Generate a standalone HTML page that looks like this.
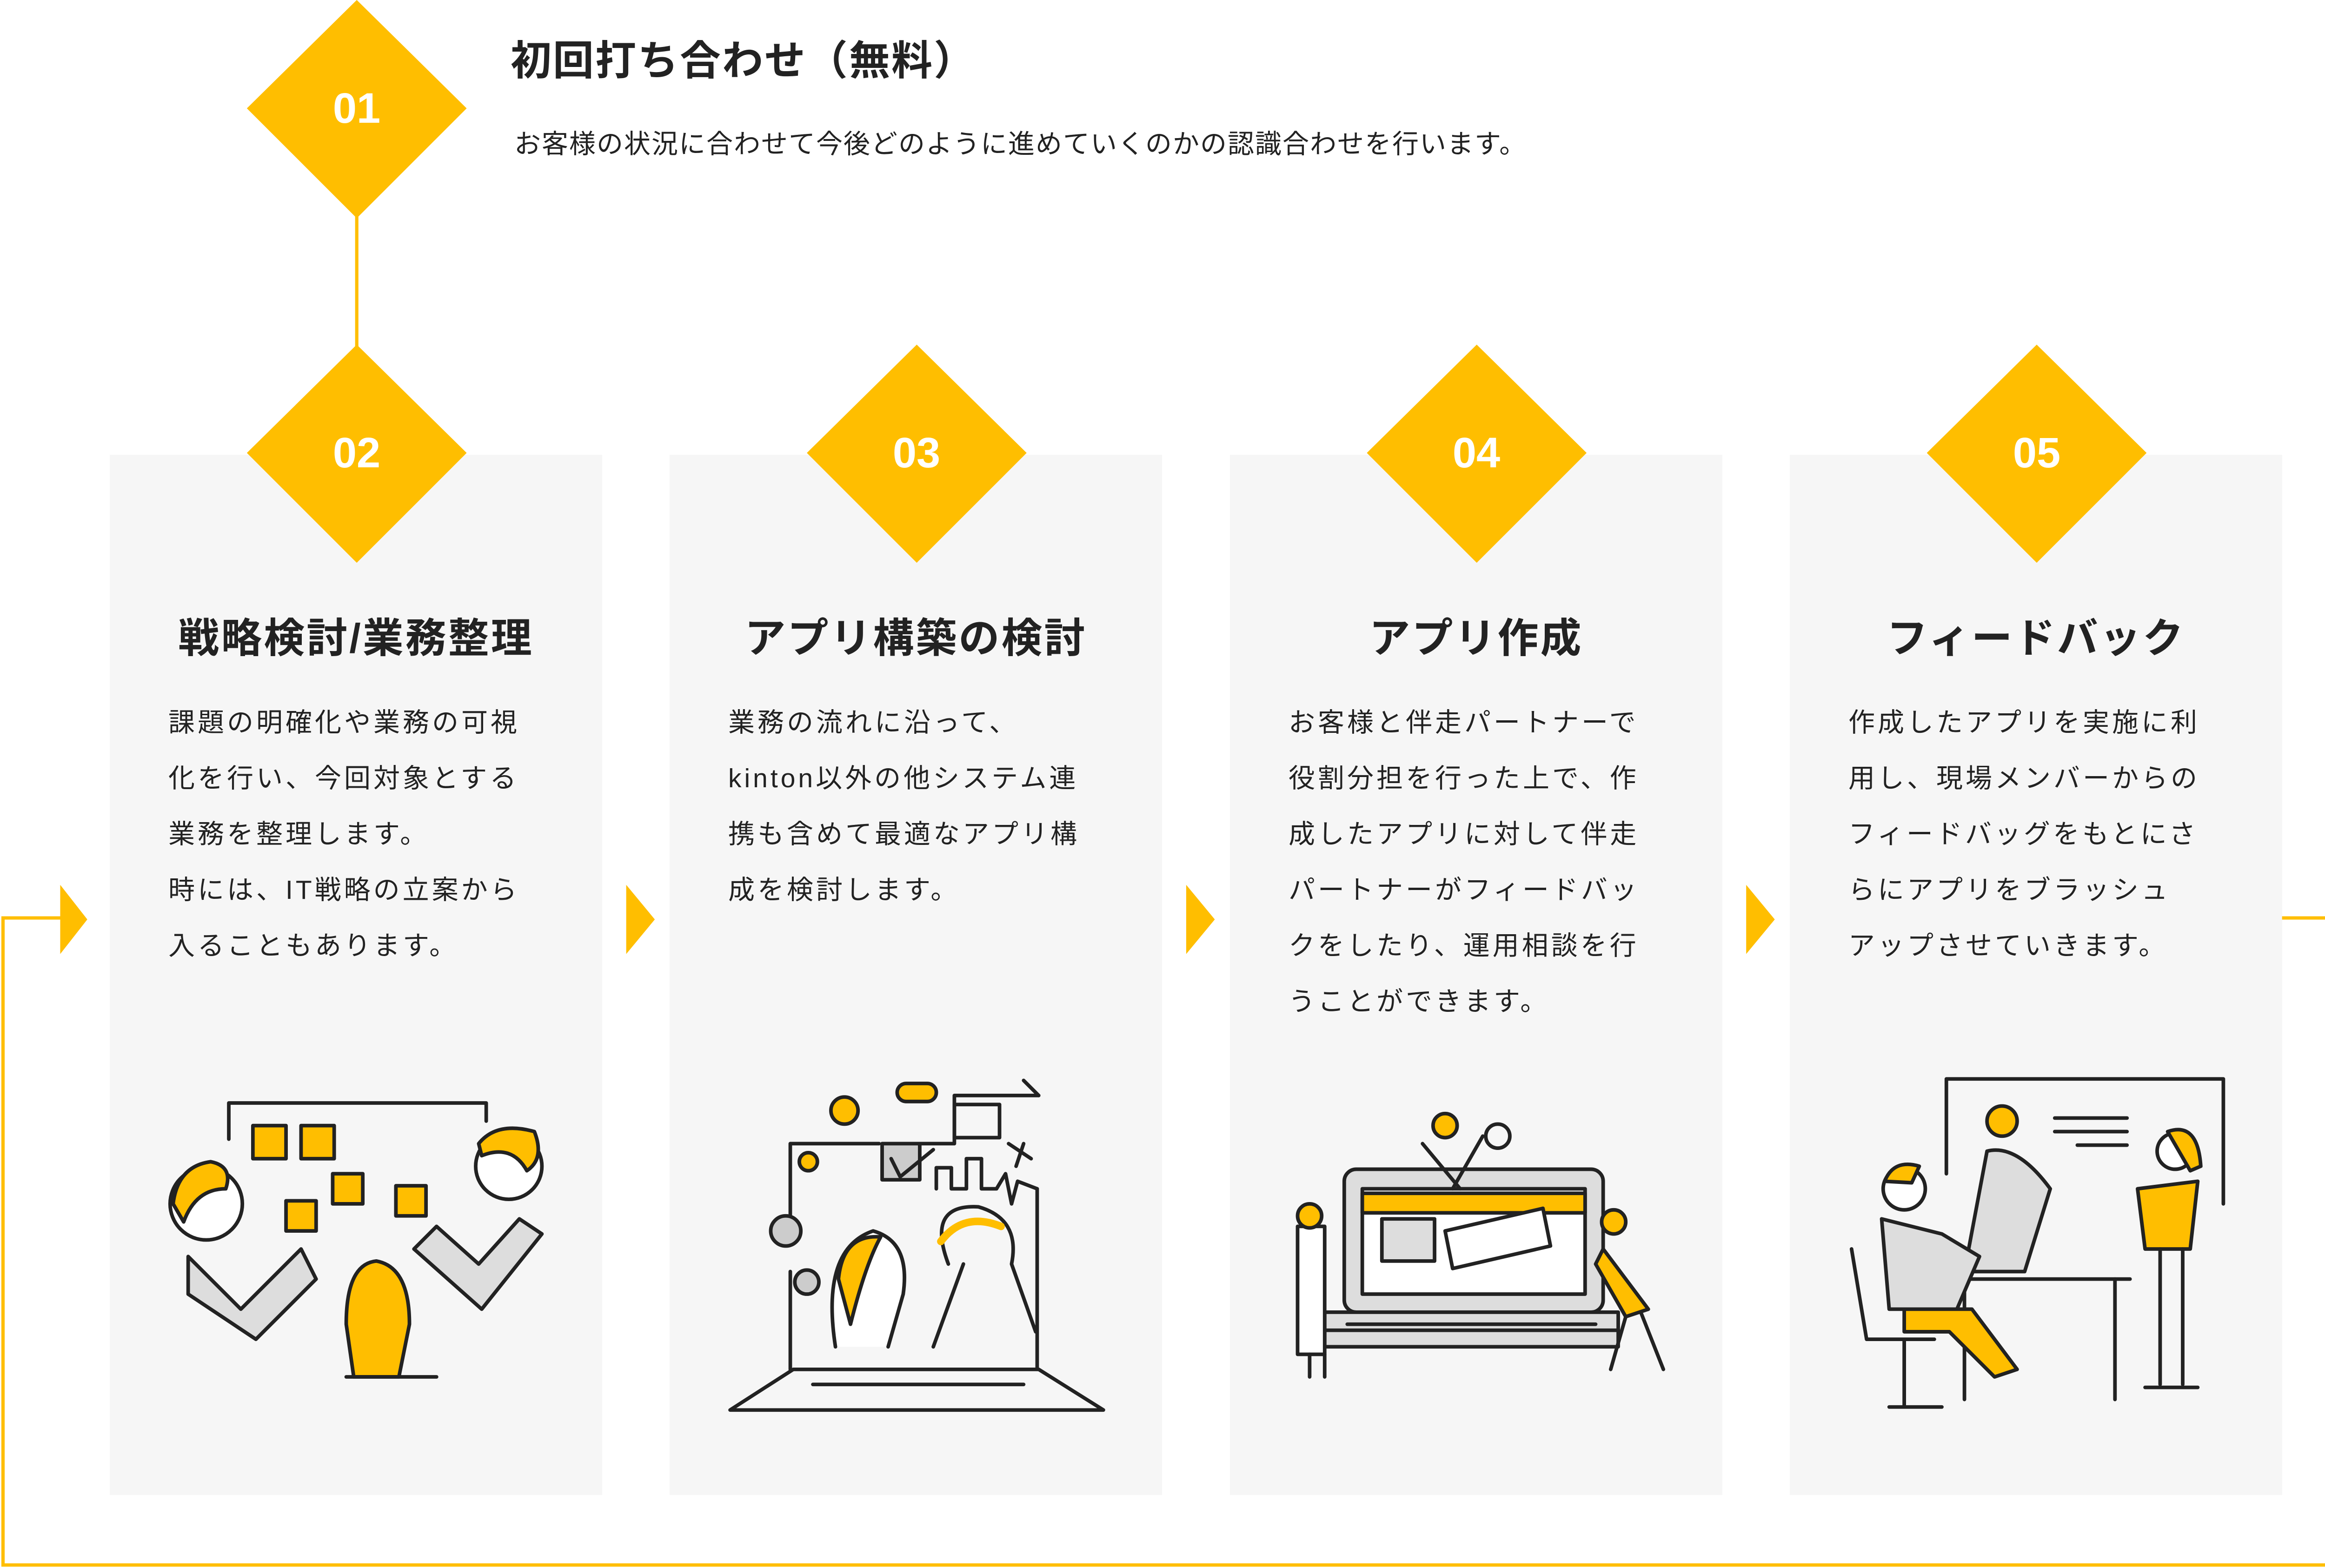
<!DOCTYPE html>
<html><head><meta charset="utf-8">
<style>
html,body{margin:0;padding:0;background:#fff;}
body{width:5076px;height:3372px;position:relative;overflow:hidden;font-family:"Liberation Sans","Noto Sans CJK JP",sans-serif;color:#222;}
.card{position:absolute;top:978px;width:1059px;height:2237px;background:#f6f6f6;}
.t{position:absolute;white-space:nowrap;}
.title{font-weight:bold;font-size:88px;top:335px;left:0;width:1059px;text-align:center;letter-spacing:4px;line-height:120px;}
.body{font-size:57px;line-height:120px;letter-spacing:6px;top:516px;left:126px;white-space:nowrap;}
.num{position:absolute;width:480px;height:120px;margin-left:-240px;margin-top:-60px;text-align:center;line-height:120px;color:#fff;font-weight:bold;font-size:92px;}
svg{position:absolute;left:0;top:0;}
</style></head><body>
<div class="card" style="left:236px"><div class="t title">戦略検討/業務整理</div><div class="t body">課題の明確化や業務の可視<br>化を行い、今回対象とする<br>業務を整理します。<br>時には、IT戦略の立案から<br>入ることもあります。</div></div>
<div class="card" style="left:1440px"><div class="t title">アプリ構築の検討</div><div class="t body">業務の流れに沿って、<br>kinton以外の他システム連<br>携も含めて最適なアプリ構<br>成を検討します。</div></div>
<div class="card" style="left:2645px"><div class="t title">アプリ作成</div><div class="t body">お客様と伴走パートナーで<br>役割分担を行った上で、作<br>成したアプリに対して伴走<br>パートナーがフィードバッ<br>クをしたり、運用相談を行<br>うことができます。</div></div>
<div class="card" style="left:3849px"><div class="t title">フィードバック</div><div class="t body">作成したアプリを実施に利<br>用し、現場メンバーからの<br>フィードバッグをもとにさ<br>らにアプリをブラッシュ<br>アップさせていきます。</div></div>

<svg width="5076" height="3372" viewBox="0 0 1568 1042" preserveAspectRatio="none">
<g fill="none" stroke="#FFBE00" stroke-width="2.2">
<line x1="237" y1="140" x2="237" y2="235"/>
<polyline points="40,610 2,610 2,1040 1566,1040 1566,610 1516,610"/>
</g>
<g fill="#FFBE00">
<polygon points="237,0 310,72 237,145 164,72"/>
<polygon points="237,229 310,301 237,374 164,301"/>
<polygon points="609,229 682,301 609,374 536,301"/>
<polygon points="981,229 1054,301 981,374 908,301"/>
<polygon points="1353,229 1426,301 1353,374 1280,301"/>
<polygon points="40,588 58,611 40,634"/>
<polygon points="416,588 435,611 416,634"/>
<polygon points="788,588 807,611 788,634"/>
<polygon points="1160,588 1179,611 1160,634"/>
</g>
<!-- card 02 illustration -->
<g stroke="#222" stroke-width="2.4" stroke-linecap="round" stroke-linejoin="round">
<polyline fill="none" points="152,757 152,733 323,733 323,745"/>
<rect x="168" y="748" width="22" height="22" fill="#FFBE00"/>
<rect x="200" y="748" width="22" height="22" fill="#FFBE00"/>
<rect x="190" y="798" width="20" height="20" fill="#FFBE00"/>
<rect x="221" y="780" width="20" height="20" fill="#FFBE00"/>
<rect x="263" y="788" width="20" height="20" fill="#FFBE00"/>
<path d="M125,835 L160,870 L200,830 L210,850 L170,890 L125,860 Z" fill="#ddd"/>
<circle cx="137" cy="800" r="24" fill="#fff"/>
<path d="M115,800 Q118,775 140,772 Q155,775 150,790 Q130,790 122,812 Z" fill="#FFBE00"/>
<path d="M275,830 L320,870 L360,820 L345,810 L318,840 L290,815 Z" fill="#ddd"/>
<circle cx="338" cy="775" r="22" fill="#fff"/>
<path d="M318,760 Q330,745 355,752 Q362,770 350,778 Q340,760 320,768 Z" fill="#FFBE00"/>
<path d="M230,880 Q230,840 250,838 Q272,842 272,880 L265,915 L235,915 Z" fill="#FFBE00"/>
<path d="M230,915 L290,915" fill="none"/>
</g>
<!-- card 03 illustration -->
<g stroke="#222" stroke-width="2.4" stroke-linecap="round" stroke-linejoin="round" fill="none">
<polygon points="485,937 733,937 690,910 527,910"/>
<line x1="540" y1="920" x2="680" y2="920"/>
<polyline points="525,818 525,760 584,760"/>
<line x1="525" y1="845" x2="525" y2="910"/>
<polyline points="600,760 634,760 634,728 690,728"/>
<polyline points="680,718 690,728"/>
<line x1="689" y1="790" x2="689" y2="910"/>
<rect x="586" y="760" width="25" height="24" fill="#ccc"/>
<path d="M592,770 L598,782 L620,764"/>
<circle cx="561" cy="738" r="9" fill="#FFBE00"/>
<circle cx="537" cy="772" r="6" fill="#FFBE00"/>
<rect x="634" y="734" width="30" height="22"/>
<polyline points="622,790 622,776 632,776 632,790 642,790 642,770 652,770 652,790 662,790 668,780 672,800 676,785 689,790"/>
<path d="M670,760 L685,770 M675,775 L680,760"/>
<rect x="596" y="720" width="26" height="12" rx="6" fill="#FFBE00"/>
<circle cx="522" cy="818" r="10" fill="#ccc"/>
<circle cx="536" cy="852" r="8" fill="#ccc"/>
<path d="M555,895 Q545,830 580,818 Q605,825 600,860 L590,895" fill="#fff"/>
<path d="M557,850 Q560,820 585,822 Q575,840 565,880 Z" fill="#FFBE00"/>
<path d="M620,895 L640,840 M630,840 Q615,800 650,802 Q678,810 672,840 L688,885"/>
<path d="M625,825 Q640,805 665,815" stroke="#FFBE00" stroke-width="5"/>
</g>
<!-- card 04 illustration -->
<g stroke="#222" stroke-width="2.4" stroke-linecap="round" stroke-linejoin="round">
<rect x="893" y="777" width="172" height="95" rx="8" fill="#ddd"/>
<rect x="905" y="790" width="148" height="70" fill="#fff"/>
<rect x="905" y="793" width="148" height="13" fill="#FFBE00"/>
<rect x="918" y="810" width="35" height="28" fill="#ddd"/>
<polygon points="960,818 1025,803 1030,828 965,843" fill="#fff"/>
<polygon points="880,872 1075,872 1075,895 880,895" fill="#ddd"/>
<line x1="895" y1="880" x2="1060" y2="880" fill="none"/>
<line x1="880" y1="884" x2="1075" y2="884" fill="none"/>
<path d="M945,760 L970,790 M985,755 L965,790" fill="none"/>
<circle cx="960" cy="748" r="8" fill="#FFBE00"/>
<circle cx="995" cy="755" r="8" fill="none"/>
<path d="M862,815 L862,900 L880,900 L880,815 Z" fill="#fff"/>
<circle cx="870" cy="808" r="8" fill="#FFBE00"/>
<path d="M870,900 L870,915 M880,915 L880,900" fill="none"/>
<path d="M1065,830 L1095,870 L1080,875 L1060,840 Z" fill="#FFBE00"/>
<circle cx="1072" cy="812" r="8" fill="#FFBE00"/>
<path d="M1080,875 L1070,910 M1090,872 L1105,910" fill="none"/>
</g>
<!-- card 05 illustration -->
<g stroke="#222" stroke-width="2.4" stroke-linecap="round" stroke-linejoin="round">
<polyline fill="none" points="1293,780 1293,717 1477,717 1477,800"/>
<line x1="1365" y1="743" x2="1413" y2="743"/>
<line x1="1365" y1="752" x2="1413" y2="752"/>
<line x1="1380" y1="761" x2="1413" y2="761"/>
<path d="M1305,845 L1320,765 Q1340,760 1362,790 L1345,845 Z" fill="#ddd"/>
<circle cx="1330" cy="745" r="10" fill="#FFBE00"/>
<line x1="1300" y1="850" x2="1415" y2="850" fill="none"/>
<line x1="1305" y1="850" x2="1305" y2="930" fill="none"/>
<line x1="1405" y1="850" x2="1405" y2="930" fill="none"/>
<path d="M1250,810 L1255,870 L1300,870 L1315,835 L1290,820 Z" fill="#ddd"/>
<circle cx="1265" cy="790" r="14" fill="#fff"/>
<path d="M1252,785 Q1258,770 1275,775 L1270,786 Z" fill="#FFBE00"/>
<path d="M1265,870 L1310,870 L1340,910 L1325,915 L1295,885 L1265,885 Z" fill="#FFBE00"/>
<path d="M1230,830 L1240,890 L1285,890 M1255,935 L1290,935 M1265,890 L1265,935" fill="none"/>
<path d="M1420,790 L1460,785 L1455,830 L1425,830 Z" fill="#FFBE00"/>
<circle cx="1445" cy="765" r="12" fill="#fff"/>
<path d="M1440,752 Q1460,745 1462,775 L1455,778 Z" fill="#FFBE00"/>
<path d="M1435,830 L1435,920 M1450,830 L1450,920 M1425,922 L1460,922" fill="none"/>
</g>
</svg>

<div class="num" style="left:767px;top:233px">01</div>
<div class="num" style="left:767px;top:974px">02</div>
<div class="num" style="left:1971px;top:974px">03</div>
<div class="num" style="left:3175px;top:974px">04</div>
<div class="num" style="left:4380px;top:974px">05</div>

<div class="t" style="left:1098px;top:60px;font-size:88px;font-weight:bold;letter-spacing:3px;">初回打ち合わせ（無料）</div>
<div class="t" style="left:1106px;top:264px;font-size:57px;letter-spacing:2px;">お客様の状況に合わせて今後どのように進めていくのかの認識合わせを行います。</div>
</body></html>
